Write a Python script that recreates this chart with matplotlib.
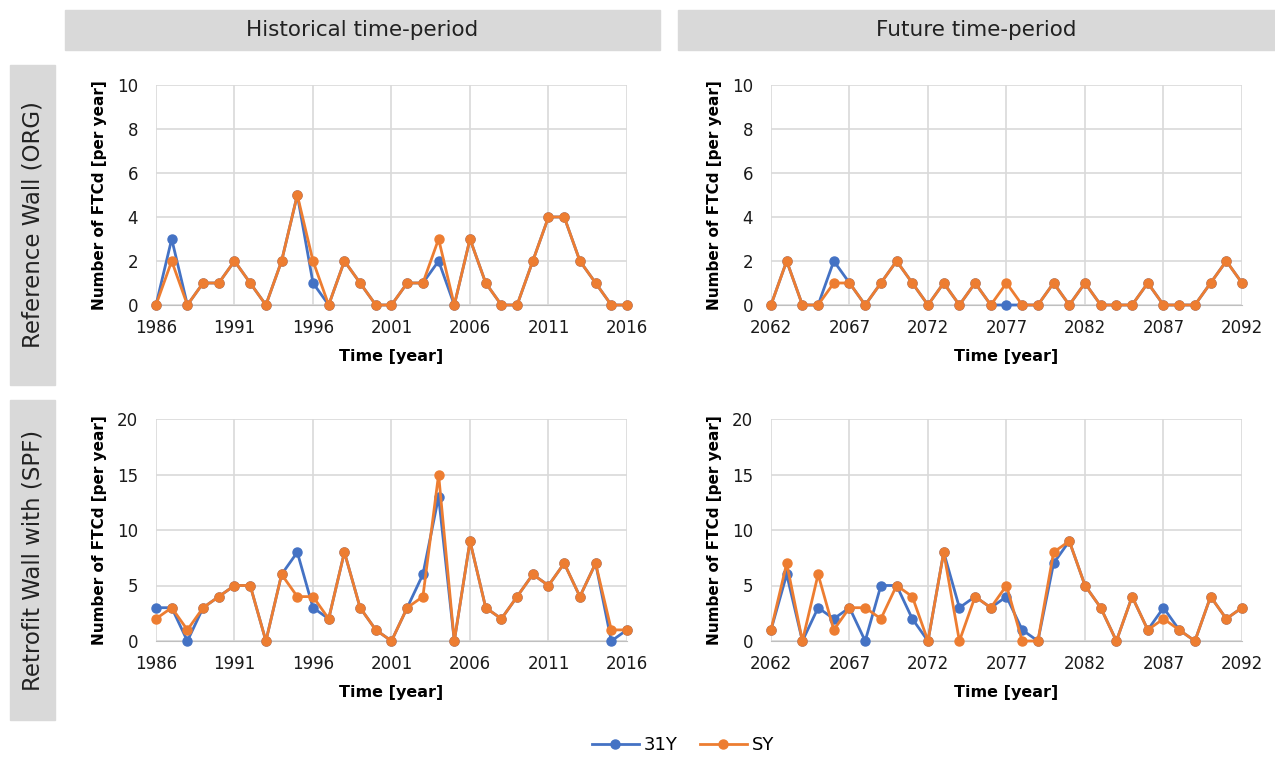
import matplotlib
matplotlib.use("Agg")
import matplotlib.pyplot as plt
from matplotlib.patches import Rectangle
from matplotlib.lines import Line2D

# ── data ──────────────────────────────────────────────────────
hist_years = list(range(1986, 2017))
fut_years = list(range(2062, 2093))

org_hist_31y = [0, 3, 0, 1, 1, 2, 1, 0, 2, 5, 1, 0, 2, 1, 0, 0, 1, 1, 2, 0,
                3, 1, 0, 0, 2, 4, 4, 2, 1, 0, 0]
org_hist_sy = [0, 2, 0, 1, 1, 2, 1, 0, 2, 5, 2, 0, 2, 1, 0, 0, 1, 1, 3, 0,
               3, 1, 0, 0, 2, 4, 4, 2, 1, 0, 0]

org_fut_31y = [0, 2, 0, 0, 2, 1, 0, 1, 2, 1, 0, 1, 0, 1, 0, 0, 0, 0, 1, 0,
               1, 0, 0, 0, 1, 0, 0, 0, 1, 2, 1]
org_fut_sy = [0, 2, 0, 0, 1, 1, 0, 1, 2, 1, 0, 1, 0, 1, 0, 1, 0, 0, 1, 0,
              1, 0, 0, 0, 1, 0, 0, 0, 1, 2, 1]

spf_hist_31y = [3, 3, 0, 3, 4, 5, 5, 0, 6, 8, 3, 2, 8, 3, 1, 0, 3, 6, 13, 0,
                9, 3, 2, 4, 6, 5, 7, 4, 7, 0, 1]
spf_hist_sy = [2, 3, 1, 3, 4, 5, 5, 0, 6, 4, 4, 2, 8, 3, 1, 0, 3, 4, 15, 0,
               9, 3, 2, 4, 6, 5, 7, 4, 7, 1, 1]

spf_fut_31y = [1, 6, 0, 3, 2, 3, 0, 5, 5, 2, 0, 8, 3, 4, 3, 4, 1, 0, 7, 9,
               5, 3, 0, 4, 1, 3, 1, 0, 4, 2, 3]
spf_fut_sy = [1, 7, 0, 6, 1, 3, 3, 2, 5, 4, 0, 8, 0, 4, 3, 5, 0, 0, 8, 9,
              5, 3, 0, 4, 1, 2, 1, 0, 4, 2, 3]

col_titles = ["Historical time-period", "Future time-period"]
row_titles = ["Reference Wall (ORG)", "Retrofit Wall with (SPF)"]

# ── styling ───────────────────────────────────────────────────
BLUE = "#4472C4"
ORANGE = "#ED7D31"
GRID = "#d9d9d9"
BOX = "#d9d9d9"
plt.rcParams["font.family"] = ["DejaVu Sans"]

W, H = 1275, 757
fig = plt.figure(figsize=(W / 100, H / 100), dpi=100)


def px_axes(x0, y0, x1, y1):
    # pixel box (top-left origin) -> figure axes
    return fig.add_axes([x0 / W, 1 - y1 / H, (x1 - x0) / W, (y1 - y0) / H])


def draw_panel(ax, years, s31, ssy, ymax, ystep):
    ax.plot(years, s31, color=BLUE, lw=2, marker="o", ms=6.5, zorder=3,
            clip_on=False)
    ax.plot(years, ssy, color=ORANGE, lw=2, marker="o", ms=6.5, zorder=4,
            clip_on=False)
    ax.set_xlim(years[0], years[-1])
    ax.set_ylim(0, ymax)
    ax.set_xticks(years[::5])
    ax.set_yticks(range(0, ymax + 1, ystep))
    ax.grid(True, color=GRID, lw=1.2)
    ax.set_axisbelow(True)
    for s in ["top", "right", "left"]:
        ax.spines[s].set_visible(False)
    ax.spines["bottom"].set_color("#bfbfbf")
    ax.tick_params(length=0, labelsize=12, colors="#1a1a1a")
    ax.tick_params(axis="x", pad=10)
    ax.tick_params(axis="y", pad=13)
    ax.set_xlabel("Time [year]", fontsize=11.5, fontweight="bold", labelpad=9)
    ax.set_ylabel("Number of FTCd [per year]", fontsize=11,
                  fontweight="bold", labelpad=7)


ax1 = px_axes(156, 85, 627, 305)
draw_panel(ax1, hist_years, org_hist_31y, org_hist_sy, 10, 2)
ax2 = px_axes(771, 85, 1242, 305)
draw_panel(ax2, fut_years, org_fut_31y, org_fut_sy, 10, 2)
ax3 = px_axes(156, 419, 627, 641)
draw_panel(ax3, hist_years, spf_hist_31y, spf_hist_sy, 20, 5)
ax4 = px_axes(771, 419, 1242, 641)
draw_panel(ax4, fut_years, spf_fut_31y, spf_fut_sy, 20, 5)

# ── header / row label boxes ──────────────────────────────────
for (x0, x1), t in zip([(65, 660), (678, 1275)], col_titles):
    fig.patches.append(Rectangle((x0 / W, 1 - 50 / H), (x1 - x0) / W, 40 / H,
                                 transform=fig.transFigure, color=BOX,
                                 zorder=0))
    fig.text((x0 + x1) / 2 / W, 1 - 30 / H, t, ha="center", va="center",
             fontsize=15.5, color="#222222")

for (y0, y1), t in zip([(65, 385), (400, 720)], row_titles):
    fig.patches.append(Rectangle((10 / W, 1 - y1 / H), 45 / W, (y1 - y0) / H,
                                 transform=fig.transFigure, color=BOX,
                                 zorder=0))
    fig.text(33 / W, 1 - (y0 + y1) / 2 / H, t, ha="center", va="center",
             rotation=90, fontsize=16.5, color="#222222")

# ── legend ────────────────────────────────────────────────────
handles = [Line2D([], [], color=BLUE, lw=2, marker="o", ms=6.5),
           Line2D([], [], color=ORANGE, lw=2, marker="o", ms=6.5)]
fig.legend(handles, ["31Y", "SY"], loc="center", ncol=2, frameon=False,
           bbox_to_anchor=(683 / W, 1 - 745 / H), fontsize=13,
           handlelength=2.6, columnspacing=1.2, handletextpad=0.3)

fig.savefig("out.png", dpi=100)
